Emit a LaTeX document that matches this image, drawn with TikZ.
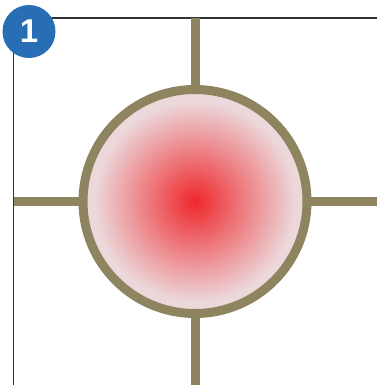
\documentclass[tikz,border=0pt]{standalone}
\usepackage{fontspec}
\setsansfont{Liberation Sans}
\definecolor{olivec}{RGB}{142,133,96}
\definecolor{bluec}{RGB}{40,110,180}
\definecolor{framec}{RGB}{50,50,50}
\definecolor{redc}{RGB}{238,40,44}
\definecolor{pinkc}{RGB}{236,216,219}
\pgfdeclareradialshading{redglow}{\pgfpoint{0bp}{0bp}}{color(0bp)=(redc); color(22.5bp)=(pinkc); color(50bp)=(pinkc)}
\tikzset{
  framestyle/.style={draw=framec, line width=1.5pt},
  crossline/.style={draw=olivec, line width=9pt},
  ringstyle/.style={draw=olivec, line width=9pt, shading=redglow},
  badge/.style={circle, fill=bluec, minimum size=53pt, inner sep=0pt, text=white, font=\sffamily\bfseries\fontsize{33}{33}\selectfont}
}
\begin{document}
\begin{tikzpicture}[x=1pt,y=-1pt]
\useasboundingbox (0,0) rectangle (377,385);
\fill[white] (0,0) rectangle (377,385);
\coordinate (corner) at (13.5,18);
\coordinate (right) at (377,18);
\coordinate (bottom) at (13.5,385);
\coordinate (c) at (195,201.5);
\coordinate (top) at (195,18);
\coordinate (bot) at (195,385);
\coordinate (lft) at (13.5,201.5);
\coordinate (rgt) at (377,201.5);
\draw[framestyle] (right) -- (corner) -- (bottom);
\draw[crossline] (top) -- (bot);
\draw[crossline] (lft) -- (rgt);
\shadedraw[ringstyle] (c) circle (112pt);
\node[badge] (num) at (29,31.5) {1};
\end{tikzpicture}
\end{document}
